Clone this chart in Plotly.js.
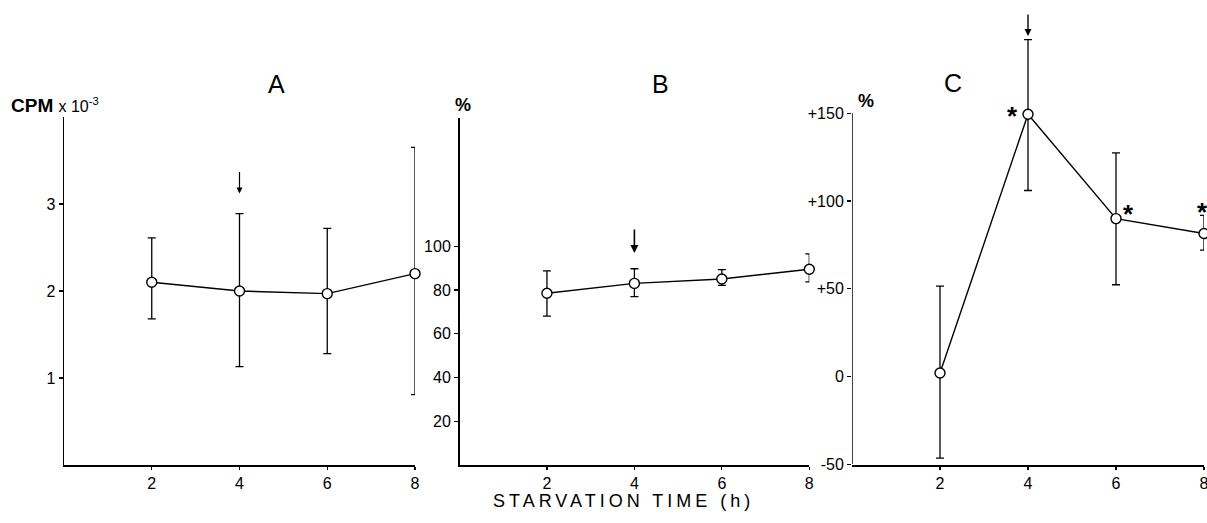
<!DOCTYPE html>
<html>
<head>
<meta charset="utf-8">
<script src="https://cdn.plot.ly/plotly-3.0.1.min.js"></script>
<style>
html,body{margin:0;padding:0;background:#fff;}
#chart{width:1207px;height:523px;}
</style>
</head>
<body>
<div id="chart"></div>
<script>
// Starvation time (h)
const hours = [2, 4, 6, 8];

// Panel A: CPM x 10^-3
const cpmMean  = [2.10, 2.00, 1.97, 2.20];
const cpmPlus  = [0.51, 0.89, 0.75, 1.45];
const cpmMinus = [0.42, 0.87, 0.69, 1.39];

// Panel B: %
const pctMean  = [78.5, 83.0, 85.0, 89.5];
const pctPlus  = [10.2, 6.7, 4.3, 7.0];
const pctMinus = [10.5, 6.0, 2.9, 5.8];

// Panel C: % change
const chgMean  = [2, 149.5, 90, 81.5];
const chgPlus  = [49.5, 42.5, 37.5, 10.3];
const chgMinus = [48.5, 43.5, 37.7, 9.5];

// Significance markers (index into hours) for panel C
const sigIdx = [1, 2, 3];

// Tick labels
const xTicks = [2, 4, 6, 8];
const aTicks = [1, 2, 3];
const bTicks = [20, 40, 60, 80, 100];
const cTickVals = [-50, 0, 50, 100, 150];
const cTickText = ['-50', '0', '+50', '+100', '+150'];

// Arrow heads (time 4 h) per panel
const arrowA = 3.12, arrowB = 96.9, arrowC = 194;

const FONT = 'Liberation Sans, Arial, Helvetica, sans-serif';
const W = 1207, H = 523;
const px = v => v / W;
const py = v => (H - v) / H;

function trace(y, plus, minus, xa, ya) {
  return {
    x: hours, y: y, xaxis: xa, yaxis: ya,
    type: 'scatter', mode: 'lines+markers',
    line: {color: '#000', width: 1.4},
    marker: {symbol: 'circle', size: 10, color: '#fff', line: {color: '#000', width: 1.4}},
    error_y: {type: 'data', symmetric: false, array: plus, arrayminus: minus,
              color: '#000', thickness: 1.3, width: 4},
    cliponaxis: false,
    hoverinfo: 'skip'
  };
}

const data = [
  trace(cpmMean, cpmPlus, cpmMinus, 'x', 'y'),
  trace(pctMean, pctPlus, pctMinus, 'x2', 'y2'),
  trace(chgMean, chgPlus, chgMinus, 'x3', 'y3')
];

const axBase = {
  showgrid: false, zeroline: false, showline: true, linecolor: '#000', linewidth: 1.5,
  ticks: 'outside', ticklen: 4, tickwidth: 1.2, tickcolor: '#000', ticklabeloverflow: 'allow',
  tickfont: {family: FONT, size: 16, color: '#000'}, fixedrange: true
};
function xax(d) {
  return Object.assign({}, axBase, {domain: d, range: [0, 8], tickmode: 'array', tickvals: xTicks, ticklen: 3});
}

const layout = {
  width: W, height: H,
  margin: {l: 0, r: 0, t: 0, b: 0},
  paper_bgcolor: '#fff', plot_bgcolor: '#fff',
  showlegend: false,
  xaxis: xax([px(64), px(415)]),
  xaxis2: xax([px(459.5), px(809.3)]),
  xaxis3: xax([px(852), px(1204)]),
  yaxis: Object.assign({}, axBase, {anchor: 'x', domain: [py(465), py(117)], range: [0, 4],
    tickmode: 'array', tickvals: aTicks}),
  yaxis2: Object.assign({}, axBase, {anchor: 'x2', domain: [py(465), py(118)], range: [0, 158.6],
    tickmode: 'array', tickvals: bTicks}),
  yaxis3: Object.assign({}, axBase, {anchor: 'x3', showline: false, domain: [py(464.3), py(25.55)], range: [-50, 200],
    tickmode: 'array', tickvals: cTickVals, ticktext: cTickText}),
  shapes: [
    {type: 'line', xref: 'x3', yref: 'y3', x0: 0, x1: 0, y0: -50, y1: 150,
     line: {color: '#000', width: 1.5}}
  ],
  annotations: []
};

const ann = layout.annotations;
// Panel letters
[['A', 276, 84], ['B', 660, 84], ['C', 953, 83]].forEach(([t, x, y]) => {
  ann.push({xref: 'paper', yref: 'paper', x: px(x), y: py(y), text: t, showarrow: false,
            xanchor: 'center', yanchor: 'middle', font: {family: FONT, size: 25, color: '#000'}});
});
// Y axis unit labels
ann.push({xref: 'paper', yref: 'paper', x: px(9), y: py(105), xanchor: 'left', yanchor: 'middle', showarrow: false,
          text: '<b>CPM</b> <span style="font-size:16px">x 10<sup>-3</sup></span>',
          font: {family: FONT, size: 19, color: '#000'}});
ann.push({xref: 'paper', yref: 'paper', x: px(463), y: py(105), xanchor: 'center', yanchor: 'middle', showarrow: false,
          text: '%', font: {family: FONT, size: 18, color: '#000', weight: 'bold'}});
ann.push({xref: 'paper', yref: 'paper', x: px(866), y: py(101), xanchor: 'center', yanchor: 'middle', showarrow: false,
          text: '%', font: {family: FONT, size: 18, color: '#000', weight: 'bold'}});
// X axis title
ann.push({xref: 'paper', yref: 'paper', x: px(623), y: py(501), xanchor: 'center', yanchor: 'middle', showarrow: false,
          text: '<span style="letter-spacing:4px">STARVATION TIME (h)</span>',
          font: {family: FONT, size: 18, color: '#000'}});
// Arrows at 4 h
[['x', 'y', arrowA, -23, 1.2], ['x2', 'y2', arrowB, -25, 1.6], ['x3', 'y3', arrowC, -23, 1.4]].forEach(([xr, yr, y, ay, w]) => {
  ann.push({xref: xr, yref: yr, x: 4, y: y, ax: 0, ay: ay, text: '', showarrow: true,
            arrowhead: 2, arrowsize: 1, arrowwidth: w, arrowcolor: '#000', standoff: 0});
});
// Significance stars in panel C
const starShift = [[-16, 4], [12, 11], [-2, 28]];
sigIdx.forEach((i, k) => {
  ann.push({xref: 'x3', yref: 'y3', x: hours[i], y: chgMean[i], text: '*', showarrow: false,
            xanchor: 'center', yanchor: 'middle', xshift: starShift[k][0], yshift: starShift[k][1] - 6,
            font: {family: FONT, size: 26, color: '#000', weight: 'bold'}});
});

Plotly.newPlot('chart', data, layout, {displayModeBar: false, staticPlot: true});
</script>
</body>
</html>
